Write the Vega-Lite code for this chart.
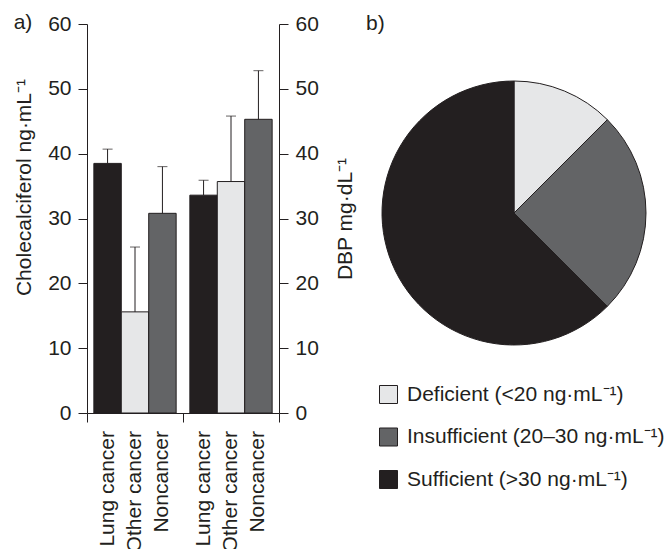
{
  "$schema": "https://vega.github.io/schema/vega-lite/v6.json",
  "padding": {"left": 13, "top": 12, "right": 0, "bottom": 0},
  "config": {
    "font": "Liberation Sans",
    "view": {"stroke": null},
    "axis": {"domainColor": "#231f20", "tickColor": "#231f20", "labelColor": "#231f20", "titleColor": "#231f20", "labelFontSize": 21, "titleFontSize": 21, "titleFontWeight": "normal", "grid": false, "domainWidth": 1, "tickWidth": 1},
    "title": {"fontSize": 21, "fontWeight": "normal", "color": "#231f20"}
  },
  "bounds": "flush",
  "spacing": 103,
  "hconcat": [
    {
      "width": 192,
      "height": 389,
      "title": {"text": "a)", "anchor": "start", "frame": "bounds", "offset": -20},
      "data": {"values": [
        {"measure": "Cholecalciferol", "group": "Lung cancer", "mean": 38.5, "upper": 40.7},
        {"measure": "Cholecalciferol", "group": "Other cancer", "mean": 15.6, "upper": 25.6},
        {"measure": "Cholecalciferol", "group": "Noncancer", "mean": 30.8, "upper": 38.0},
        {"measure": "DBP", "group": "Lung cancer", "mean": 33.6, "upper": 35.9},
        {"measure": "DBP", "group": "Other cancer", "mean": 35.7, "upper": 45.8},
        {"measure": "DBP", "group": "Noncancer", "mean": 45.3, "upper": 52.8}
      ]},
      "encoding": {
        "x": {"field": "measure", "type": "nominal", "scale": {"domain": ["Cholecalciferol", "DBP"], "paddingInner": 0, "paddingOuter": 0}, "axis": {"labels": false, "title": null, "tickBand": "extent", "tickSize": 9}},
        "xOffset": {"field": "group", "type": "nominal", "scale": {"domain": ["Lung cancer", "Other cancer", "Noncancer"], "paddingInner": 0, "paddingOuter": 0.25}}
      },
      "layer": [
        {
          "transform": [{"filter": "datum.measure == 'Cholecalciferol'"}],
          "layer": [
            {
              "mark": {"type": "bar", "stroke": "#231f20", "strokeWidth": 1},
              "encoding": {
                "y": {"field": "mean", "type": "quantitative", "scale": {"domain": [0, 60], "nice": false}, "axis": {"orient": "left", "values": [0, 10, 20, 30, 40, 50, 60], "tickSize": 9, "labelPadding": 7, "title": "Cholecalciferol ng·mL⁻¹", "titlePadding": 13, "titleY": 163}},
                "color": {"field": "group", "type": "nominal", "scale": {"domain": ["Lung cancer", "Other cancer", "Noncancer"], "range": ["#231f20", "#e6e7e8", "#636466"]}, "legend": null}
              }
            },
            {
              "mark": {"type": "rule", "color": "#231f20", "strokeWidth": 1},
              "encoding": {
                "y": {"field": "mean", "type": "quantitative", "scale": {"domain": [0, 60], "nice": false}, "axis": {"orient": "left", "values": [0, 10, 20, 30, 40, 50, 60], "tickSize": 9, "labelPadding": 7, "title": "Cholecalciferol ng·mL⁻¹", "titlePadding": 13, "titleY": 163}},
                "y2": {"field": "upper"}
              }
            },
            {
              "mark": {"type": "tick", "color": "#231f20", "thickness": 1, "size": 10, "orient": "horizontal"},
              "encoding": {
                "y": {"field": "upper", "type": "quantitative", "scale": {"domain": [0, 60], "nice": false}, "axis": {"orient": "left", "values": [0, 10, 20, 30, 40, 50, 60], "tickSize": 9, "labelPadding": 7, "title": "Cholecalciferol ng·mL⁻¹", "titlePadding": 13, "titleY": 163}}
              }
            }
          ]
        },
        {
          "transform": [{"filter": "datum.measure == 'DBP'"}],
          "layer": [
            {
              "mark": {"type": "bar", "stroke": "#231f20", "strokeWidth": 1},
              "encoding": {
                "y": {"field": "mean", "type": "quantitative", "scale": {"domain": [0, 60], "nice": false}, "axis": {"orient": "right", "values": [0, 10, 20, 30, 40, 50, 60], "tickSize": 9, "labelPadding": 7, "title": "DBP mg·dL⁻¹", "titlePadding": 16, "titleAngle": 270, "titleBaseline": "top"}},
                "color": {"field": "group", "type": "nominal", "scale": {"domain": ["Lung cancer", "Other cancer", "Noncancer"], "range": ["#231f20", "#e6e7e8", "#636466"]}, "legend": null}
              }
            },
            {
              "mark": {"type": "rule", "color": "#231f20", "strokeWidth": 1},
              "encoding": {
                "y": {"field": "mean", "type": "quantitative", "scale": {"domain": [0, 60], "nice": false}, "axis": {"orient": "right", "values": [0, 10, 20, 30, 40, 50, 60], "tickSize": 9, "labelPadding": 7, "title": "DBP mg·dL⁻¹", "titlePadding": 16, "titleAngle": 270, "titleBaseline": "top"}},
                "y2": {"field": "upper"}
              }
            },
            {
              "mark": {"type": "tick", "color": "#231f20", "thickness": 1, "size": 10, "orient": "horizontal"},
              "encoding": {
                "y": {"field": "upper", "type": "quantitative", "scale": {"domain": [0, 60], "nice": false}, "axis": {"orient": "right", "values": [0, 10, 20, 30, 40, 50, 60], "tickSize": 9, "labelPadding": 7, "title": "DBP mg·dL⁻¹", "titlePadding": 16, "titleAngle": 270, "titleBaseline": "top"}}
              }
            }
          ]
        },
        {
          "mark": {"type": "text", "angle": 270, "align": "right", "baseline": "middle", "dx": -18, "fontSize": 21, "color": "#231f20"},
          "encoding": {
            "text": {"field": "group"},
            "y": {"datum": 0, "type": "quantitative", "scale": {"domain": [0, 60], "nice": false}, "axis": null}
          }
        }
      ],
      "resolve": {"scale": {"y": "independent"}}
    },
    {
      "width": 264,
      "height": 378,
      "title": {"text": "b)", "anchor": "start", "frame": "group", "dx": -16, "offset": -9.5},
      "data": {"values": [
        {"status": "Deficient (<20 ng·mL⁻¹)", "share": 12.5},
        {"status": "Insufficient (20–30 ng·mL⁻¹)", "share": 25},
        {"status": "Sufficient (>30 ng·mL⁻¹)", "share": 62.5}
      ]},
      "mark": {"type": "arc", "outerRadius": 132, "stroke": "#231f20", "strokeWidth": 1},
      "encoding": {
        "theta": {"field": "share", "type": "quantitative"},
        "color": {
          "field": "status", "type": "nominal",
          "scale": {"domain": ["Deficient (<20 ng·mL⁻¹)", "Insufficient (20–30 ng·mL⁻¹)", "Sufficient (>30 ng·mL⁻¹)"], "range": ["#e6e7e8", "#636466", "#231f20"]},
          "legend": {"title": null, "orient": "none", "legendX": -4, "legendY": 360, "symbolType": "square", "symbolSize": 324, "symbolStrokeColor": "#231f20", "symbolStrokeWidth": 1, "labelFontSize": 21, "labelColor": "#231f20", "labelOffset": 8, "rowPadding": 19.5, "labelLimit": 400}
        }
      }
    }
  ],
  "resolve": {"scale": {"color": "independent"}, "legend": {"color": "independent"}}
}
